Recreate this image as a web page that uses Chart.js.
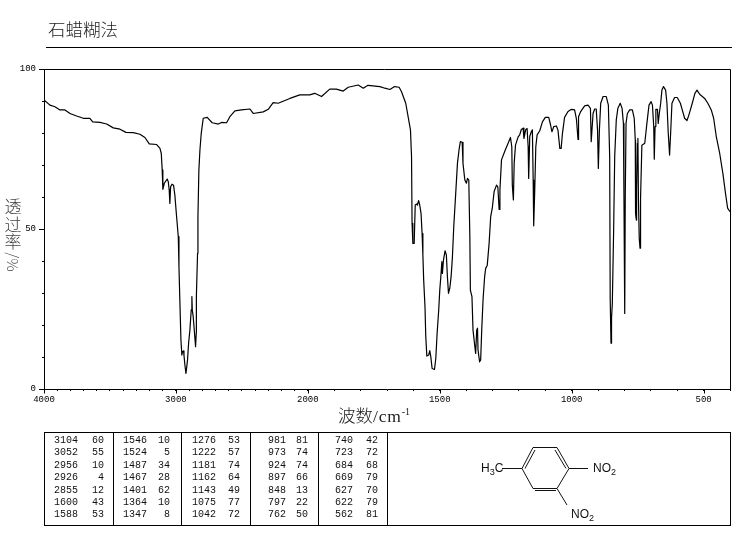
<!DOCTYPE html>
<html>
<head>
<meta charset="utf-8">
<title>IR spectrum</title>
<script src="https://cdn.jsdelivr.net/npm/chart.js@4"></script>
<style>
html, body { margin: 0; padding: 0; background: #fff; }
#page { position: relative; width: 737px; height: 539px; overflow: hidden; font-family: "Noto Sans CJK SC", sans-serif; color: #222; }
#page canvas { position: absolute; left: 0; top: 0; }
#title { position: absolute; left: 48px; top: 16px; font-size: 17.5px; line-height: 26px; font-weight: 300; }
#rule { position: absolute; left: 46px; top: 47px; width: 686px; height: 1px; background: #000; }
#yTitle { position: absolute; left: 3px; top: 197px; width: 20px; text-align: center; font-size: 17px; line-height: 17.5px; font-weight: 300; color: #444; }
#yTitle div { height: 17.5px; }
#yTitle .turn { height: 22px; line-height: 22px; }
#yTitle .turn span { display: inline-block; transform: rotate(90deg); font-size: 15px; white-space: nowrap; }
#xTitle { position: absolute; left: 338px; top: 402px; font-size: 17.5px; line-height: 26px; font-weight: 300; white-space: nowrap; }
#xTitle i { font: normal 17.5px "Liberation Serif", serif; letter-spacing: 0.8px; }
#xTitle sup { font: normal 10px "Liberation Serif", serif; position: relative; top: -7px; vertical-align: baseline; }
#peaks { position: absolute; left: 44px; top: 432px; width: 685px; height: 92px; border: 1px solid #000; box-sizing: content-box; }
#peaks .sep { position: absolute; top: 0; bottom: 0; width: 1px; background: #000; }
#peaks span { position: absolute; font: 10px "Liberation Mono", monospace; line-height: 12px; color: #111; text-align: right; }
#mol { position: absolute; left: 440px; top: 425px; }
#mol text { font: 12px "Liberation Sans", sans-serif; fill: #111; }
</style>
</head>
<body>
<div id="page">
  <canvas id="chart" width="737" height="539"></canvas>
  <div id="title">石蜡糊法</div>
  <div id="rule"></div>
  <div id="yTitle"><div>透</div><div>过</div><div>率</div><div class="turn"><span>/%</span></div></div>
  <div id="xTitle">波数<i>/cm</i><sup>-1</sup></div>
  <div id="peaks"></div>
  <svg id="mol" width="190" height="105" stroke="#111" stroke-width="1" fill="none">
    <path d="M82 43.5 L93 22.5 L117 22.5 L129 43.5 L117 63.5 L93 63.5 Z"/>
    <path d="M85 43.5 L95 25 M115 25 L126 43.5 M95 65.5 L116 65.5"/>
    <path d="M62 43.5 L82 43.5 M129 43.5 L148 43.5 M117 63.5 L127 80"/>
    <text x="41" y="47" stroke="none">H<tspan dy="3" font-size="9">3</tspan><tspan dy="-3">C</tspan></text>
    <text x="153" y="47" stroke="none">NO<tspan dy="3" font-size="9">2</tspan></text>
    <text x="131" y="93" stroke="none">NO<tspan dy="3" font-size="9">2</tspan></text>
  </svg>
</div>

<script>
// spectrum, high wavenumber first
const wavenumbers = [
  4000, 3955, 3917, 3879, 3841, 3803, 3753, 3702, 3652, 3631, 3576, 3525, 3475, 3424, 3379, 3323, 3273, 3235, 3202, 3146,
  3121, 3111, 3104, 3099, 3088, 3066, 3058, 3051, 3046, 3040, 3030, 3018, 3008, 2995, 2982, 2977, 2970, 2962, 2955, 2950,
  2942, 2939, 2932, 2924, 2919, 2912, 2904, 2894, 2884, 2879, 2876, 2869, 2859, 2851, 2846, 2845, 2836, 2833, 2826, 2818,
  2808, 2793, 2763, 2725, 2679, 2654, 2616, 2591, 2553, 2503, 2439, 2414, 2338, 2300, 2263, 2225, 2136, 2061, 1993, 1974,
  1948, 1917, 1892, 1866, 1847, 1809, 1790, 1772, 1727, 1708, 1689, 1671, 1654, 1645, 1629, 1620, 1611, 1607, 1605, 1602,
  1597, 1593, 1588, 1585, 1580, 1576, 1571, 1567, 1564, 1561, 1556, 1553, 1549, 1542, 1538, 1534, 1529, 1520, 1515, 1510,
  1504, 1500, 1496, 1492, 1490, 1486, 1480, 1475, 1471, 1467, 1462, 1457, 1452, 1447, 1441, 1433, 1427, 1422, 1415, 1412,
  1405, 1399, 1395, 1390, 1386, 1384, 1378, 1374, 1367, 1364, 1360, 1357, 1355, 1349, 1345, 1341, 1336, 1330, 1326, 1320,
  1313, 1307, 1301, 1294, 1285, 1280, 1275, 1272, 1266, 1254, 1241, 1232, 1227, 1225, 1221, 1218, 1213, 1203, 1197, 1191,
  1184, 1181, 1174, 1169, 1165, 1164, 1162, 1159, 1153, 1149, 1146, 1145, 1143, 1140, 1136, 1131, 1121, 1111, 1100, 1087,
  1080, 1075, 1068, 1058, 1052, 1045, 1040, 1035, 1027, 1014, 1001, 989, 982, 976, 974, 966, 951, 938, 929, 926,
  919, 913, 907, 902, 899, 895, 890, 881, 869, 861, 856, 854, 851, 849, 846, 841, 837, 831, 825, 816,
  809, 804, 802, 799, 797, 794, 789, 780, 770, 763, 759, 758, 755, 754, 751, 749, 747, 744, 741, 739,
  734, 723, 715, 707, 699, 694, 689, 687, 684, 681, 675, 672, 668, 663, 658, 652, 644, 639, 634, 629,
  625, 620, 610, 600, 588, 581, 572, 563, 556, 543, 533, 525, 515, 496, 484, 471, 462, 452, 439, 427,
  417, 409, 400
];
const transmittance = [
  90.3, 88.7, 88.2, 87.2, 87.2, 86.1, 85.3, 84.6, 84.6, 83.5, 83.3, 82.8, 81.6, 81.2, 80.2, 80.1, 79.6, 78.6, 76.6, 76.4,
  75.2, 73.6, 68.4, 62.4, 64.3, 65.6, 64.8, 62.2, 58.0, 63.2, 64.0, 63.7, 60.6, 53.9, 47.6, 38.2, 27.3, 15.3, 10.6, 11.7,
  11.9, 10.6, 7.5, 4.9, 6.5, 9.1, 14.3, 18.4, 24.7, 28.9, 24.7, 22.6, 17.4, 13.2, 17.4, 28.9, 42.4, 53.9, 68.4, 74.7,
  79.9, 84.6, 84.9, 83.2, 82.8, 83.3, 83.2, 85.1, 86.9, 87.2, 87.5, 86.1, 86.6, 87.4, 89.5, 89.3, 90.8, 91.9, 91.9, 92.4,
  91.4, 93.7, 93.7, 93.1, 94.3, 95.0, 94.0, 94.9, 94.5, 94.0, 93.6, 94.5, 94.3, 92.9, 89.3, 85.1, 80.9, 72.6, 51.8, 45.5,
  45.5, 57.5, 57.8, 57.5, 58.9, 57.5, 54.9, 48.6, 41.9, 34.1, 25.7, 16.3, 10.3, 10.6, 12.0, 10.1, 6.4, 6.1, 9.6, 17.4,
  24.7, 30.9, 35.1, 39.8, 36.1, 40.3, 43.2, 41.9, 35.1, 29.9, 31.5, 35.1, 41.3, 50.7, 59.1, 70.5, 74.7, 77.3, 77.1, 70.5,
  65.3, 64.3, 65.8, 65.3, 47.6, 30.9, 28.9, 18.4, 13.2, 11.1, 18.4, 19.0, 12.2, 8.5, 9.1, 18.4, 27.8, 35.1, 37.7, 38.7,
  45.5, 53.9, 56.5, 61.7, 63.7, 63.2, 56.1, 62.2, 71.6, 74.2, 76.8, 78.6, 75.7, 63.7, 59.1, 70.5, 76.2, 78.8, 79.4, 81.1,
  81.5, 78.3, 81.1, 81.4, 75.7, 67.4, 65.8, 78.9, 80.4, 81.0, 65.3, 53.8, 51.0, 62.2, 75.7, 79.4, 80.7, 83.5, 84.9, 84.9,
  82.5, 80.4, 82.0, 82.2, 80.9, 75.2, 75.2, 79.9, 84.9, 86.7, 87.4, 87.2, 84.3, 78.0, 85.1, 86.7, 88.5, 88.7, 87.7, 77.3,
  86.1, 87.5, 87.5, 80.9, 68.9, 80.9, 89.3, 91.4, 91.4, 88.7, 72.6, 27.8, 14.3, 22.1, 26.8, 49.7, 72.6, 84.1, 87.7, 89.3,
  87.7, 83.0, 61.1, 23.6, 60.1, 83.0, 86.1, 87.2, 87.2, 84.6, 77.8, 54.9, 52.8, 62.2, 76.8, 78.3, 59.1, 47.1, 44.0, 59.6,
  76.2, 76.8, 83.0, 88.7, 89.8, 88.7, 82.0, 71.8, 82.0, 87.4, 87.4, 83.0, 86.1, 89.1, 93.4, 94.5, 93.4, 89.3, 79.9, 73.1,
  79.9, 89.3, 91.1, 91.1, 89.3, 87.2, 84.6, 83.9, 85.6, 89.3, 92.4, 93.4, 92.1, 90.8, 89.3, 87.2, 84.6, 78.9, 73.6, 67.4,
  61.1, 56.5, 55.4
];

const xLabels = [4000, 3000, 2000, 1500, 1000, 500];
const yLabels = [0, 50, 100];

// peak table under the chart, one list per column
const peakWave = [
  [3104, 3052, 2956, 2926, 2855, 1600, 1588],
  [1546, 1524, 1487, 1467, 1401, 1364, 1347],
  [1276, 1222, 1181, 1162, 1143, 1075, 1042],
  [981, 973, 924, 897, 848, 797, 762],
  [740, 723, 684, 669, 627, 622, 562]
];
const peakT = [
  [60, 55, 10, 4, 12, 43, 53],
  [10, 5, 34, 28, 62, 10, 8],
  [53, 57, 74, 64, 49, 77, 72],
  [81, 74, 74, 66, 13, 22, 50],
  [42, 72, 68, 79, 70, 79, 81]
];

// peak table
const box = document.getElementById('peaks');
const sepX = [68, 136, 205, 273, 342];
const waveRight = [33, 102, 171, 241, 308];
const valRight = [59, 125, 195, 263, 333];
sepX.forEach(function(x) {
  const d = document.createElement('div');
  d.className = 'sep';
  d.style.left = x + 'px';
  box.appendChild(d);
});
function addCell(text, right, top) {
  const s = document.createElement('span');
  s.textContent = text;
  s.style.left = (right - 40) + 'px';
  s.style.width = '40px';
  s.style.top = top + 'px';
  box.appendChild(s);
}
peakWave.forEach(function(col, c) {
  col.forEach(function(w, r) {
    const top = 2 + r * 12.4;
    addCell(w, waveRight[c], top);
    addCell(peakT[c][r], valRight[c], top);
  });
});

// the axis is twice as wide per wavenumber below 2000
class IrWaveScale extends Chart.LinearScale {
  getPixelForValue(value) {
    const u = value > 2000 ? 2000 + (value - 2000) / 2 : value;
    return this.left + (3000 - u) / 2600 * this.width;
  }
}
IrWaveScale.id = 'irWave';
IrWaveScale.defaults = Chart.LinearScale.defaults;
Chart.register(IrWaveScale);

// frame on top/right, longer ticks at the labelled values
const frame = {
  id: 'frame',
  afterDraw(chart) {
    const ctx = chart.ctx, a = chart.chartArea;
    ctx.save();
    ctx.strokeStyle = '#000';
    ctx.lineWidth = 1;
    ctx.beginPath();
    ctx.moveTo(a.left - 5, a.top + 0.5);
    ctx.lineTo(a.right + 0.5, a.top + 0.5);
    ctx.lineTo(a.right + 0.5, a.bottom);
    xLabels.forEach(function(v) {
      const x = Math.round(chart.scales.x.getPixelForValue(v)) + 0.5;
      ctx.moveTo(x, a.bottom);
      ctx.lineTo(x, a.bottom + 4.5);
    });
    yLabels.forEach(function(v) {
      const y = Math.round(chart.scales.y.getPixelForValue(v)) + 0.5;
      ctx.moveTo(a.left, y);
      ctx.lineTo(a.left - 5, y);
    });
    ctx.stroke();
    ctx.restore();
  }
};

const tickFont = { family: '"Liberation Mono", monospace', size: 9 };

new Chart(document.getElementById('chart'), {
  type: 'line',
  data: {
    datasets: [{
      data: wavenumbers.map(function(w, i) { return { x: w, y: transmittance[i] }; }),
      borderColor: '#000',
      borderWidth: 1.2,
      borderJoinStyle: 'round',
      pointRadius: 0,
      tension: 0,
      fill: false
    }]
  },
  options: {
    responsive: false,
    animation: false,
    layout: { padding: { top: 69, right: 7, left: 0, bottom: 0 } },
    plugins: { legend: { display: false }, tooltip: { enabled: false } },
    scales: {
      x: {
        type: 'irWave',
        min: 400,
        max: 4000,
        afterBuildTicks(scale) {
          const t = [];
          for (let v = 4000; v >= 400; v -= 100) t.push({ value: v });
          scale.ticks = t;
        },
        afterFit(scale) { scale.height = 150; },
        grid: { drawOnChartArea: false, tickLength: 2, tickColor: '#000', tickWidth: 1 },
        border: { color: '#000', width: 1 },
        ticks: {
          autoSkip: false,
          maxRotation: 0,
          padding: 3,
          color: '#000',
          font: tickFont,
          callback(v) { return xLabels.includes(v) ? String(v) : ''; }
        }
      },
      y: {
        min: 0,
        max: 100,
        afterFit(scale) { scale.width = 44; },
        grid: { drawOnChartArea: false, tickLength: 2, tickColor: '#000', tickWidth: 1 },
        border: { color: '#000', width: 1 },
        ticks: {
          stepSize: 10,
          autoSkip: false,
          padding: 6,
          color: '#000',
          font: tickFont,
          callback(v) { return yLabels.includes(v) ? String(v) : ''; }
        }
      }
    }
  },
  plugins: [frame]
});
</script>
</body>
</html>
